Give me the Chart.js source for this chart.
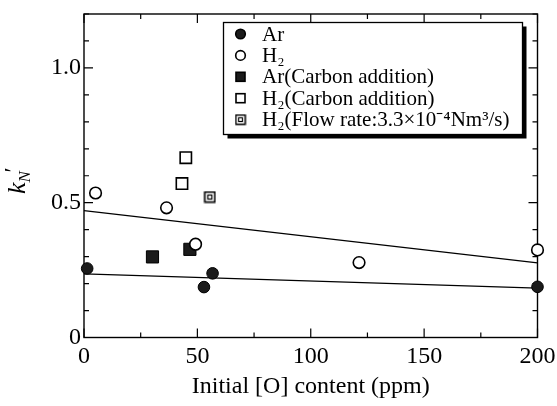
<!DOCTYPE html>
<html>
<head>
<meta charset="utf-8">
<script src="https://cdn.jsdelivr.net/npm/chart.js@4/dist/chart.umd.min.js"></script>
<style>
  body { margin: 0; background: #fff; }
  #wrap { width: 557px; height: 406px; }
</style>
</head>
<body>
<div id="wrap"><canvas id="kn-chart"></canvas></div>
<script>
// values
const seriesNames = [
    "Ar",
    "H\u2082",
    "Ar(Carbon addition)",
    "H\u2082(Carbon addition)",
    "H\u2082(Flow rate:3.3\u00d710\u207b\u2074Nm\u00b3/s)",
];
const arX = [1.4, 52.9, 56.7, 200];
const arY = [0.256, 0.187, 0.238, 0.188];
const h2X = [5.1, 36.4, 49.2, 121.3, 200];
const h2Y = [0.536, 0.481, 0.346, 0.278, 0.325];
const arCarbonX = [30.2, 46.7];
const arCarbonY = [0.299, 0.327];
const h2CarbonX = [44.9, 43.2];
const h2CarbonY = [0.667, 0.571];
const h2FlowX = [55.5];
const h2FlowY = [0.521];
const h2FitX = [0, 200];
const h2FitY = [0.471, 0.277];
const arFitX = [0, 200];
const arFitY = [0.236, 0.183];

const xTickValues = [0, 50, 100, 150, 200];
const yTickValues = [0, 0.5, 1.0];
const yTickLabels = ["0", "0.5", "1.0"];

const serif = "'Liberation Serif', 'Times New Roman', serif";

function pts(xs, ys) {
    return xs.map((x, i) => ({ x: x, y: ys[i] }));
}

// square with a small square inside, for the flow-rate series
const flowMarker = document.createElement("canvas");
flowMarker.width = 13;
flowMarker.height = 13;
const fm = flowMarker.getContext("2d");
fm.fillStyle = "#fff";
fm.fillRect(1, 1, 11, 11);
fm.strokeStyle = "#000";
fm.lineWidth = 1.6;
fm.strokeRect(1.5, 1.5, 10, 10);
fm.lineWidth = 1.2;
fm.strokeRect(4.5, 4.5, 4, 4);

const knDatasets = [
    {
        label: seriesNames[0], data: pts(arX, arY), marker: "dot",
        pointStyle: "circle", pointRadius: 5.8,
        backgroundColor: "#1b1b1b", borderColor: "#000", borderWidth: 1,
    },
    {
        label: seriesNames[1], data: pts(h2X, h2Y), marker: "ring",
        pointStyle: "circle", pointRadius: 5.8,
        backgroundColor: "#fff", borderColor: "#000", borderWidth: 1.6,
    },
    {
        label: seriesNames[2], data: pts(arCarbonX, arCarbonY), marker: "block",
        pointStyle: "rect", pointRadius: 8.6,
        backgroundColor: "#1b1b1b", borderColor: "#000", borderWidth: 1,
    },
    {
        label: seriesNames[3], data: pts(h2CarbonX, h2CarbonY), marker: "box",
        pointStyle: "rect", pointRadius: 8,
        backgroundColor: "#fff", borderColor: "#000", borderWidth: 1.6,
    },
    {
        label: seriesNames[4], data: pts(h2FlowX, h2FlowY), marker: "flow",
        pointStyle: flowMarker, pointRadius: 6,
        backgroundColor: "#fff", borderColor: "#000",
    },
    {
        label: "H2 fit", data: pts(h2FitX, h2FitY), showLine: true,
        pointRadius: 0, borderColor: "#000", borderWidth: 1.3,
    },
    {
        label: "Ar fit", data: pts(arFitX, arFitY), showLine: true,
        pointRadius: 0, borderColor: "#000", borderWidth: 1.3,
    },
];
knDatasets.forEach((d) => { d.clip = false; });

// frame with inward ticks on all four sides
const frameTicks = {
    id: "frameTicks",
    beforeDatasetsDraw(chart) {
        const { ctx, chartArea: a, scales } = chart;
        ctx.save();
        ctx.strokeStyle = "#000";
        ctx.lineWidth = 1.4;
        ctx.strokeRect(a.left, a.top, a.right - a.left, a.bottom - a.top);
        ctx.lineWidth = 1.2;
        ctx.beginPath();
        scales.x.ticks.forEach((t) => {
            const px = scales.x.getPixelForValue(t.value);
            const len = t.value % 50 === 0 ? 9 : 5;
            ctx.moveTo(px, a.bottom);
            ctx.lineTo(px, a.bottom - len);
            ctx.moveTo(px, a.top);
            ctx.lineTo(px, a.top + len);
        });
        scales.y.ticks.forEach((t) => {
            const py = scales.y.getPixelForValue(t.value);
            const len = Math.round(t.value * 10) % 5 === 0 ? 9 : 5;
            ctx.moveTo(a.left, py);
            ctx.lineTo(a.left + len, py);
            ctx.moveTo(a.right, py);
            ctx.lineTo(a.right - len, py);
        });
        ctx.stroke();
        ctx.restore();
    },
};

// y title  k_N'
const yTitle = {
    id: "yTitle",
    afterDraw(chart) {
        const ctx = chart.ctx;
        ctx.save();
        ctx.translate(25, 194);
        ctx.rotate(-Math.PI / 2);
        ctx.fillStyle = "#000";
        ctx.textBaseline = "alphabetic";
        ctx.font = "italic 26px " + serif;
        ctx.fillText("k", 0, 0);
        const kw = ctx.measureText("k").width;
        ctx.font = "italic 17px " + serif;
        ctx.fillText("N", kw, 5);
        ctx.font = "23px " + serif;
        ctx.fillText("\u2032", kw + 10, -5);
        ctx.restore();
    },
};

// boxed legend with a drop shadow
const boxLegend = {
    id: "boxLegend",
    afterDraw(chart) {
        const ctx = chart.ctx;
        const left = 223.5, top = 22.5, w = 299, h = 112;
        ctx.save();
        ctx.fillStyle = "#000";
        ctx.fillRect(left + 4, top + 4, w, h);
        ctx.fillStyle = "#fff";
        ctx.fillRect(left, top, w, h);
        ctx.strokeStyle = "#000";
        ctx.lineWidth = 1.3;
        ctx.strokeRect(left, top, w, h);
        ctx.font = "21px " + serif;
        ctx.textBaseline = "middle";
        const items = chart.data.datasets.filter((d) => d.marker);
        items.forEach((d, i) => {
            const cy = 34 + i * 21.4;
            const mx = 240.5;
            ctx.lineWidth = 1.6;
            ctx.strokeStyle = "#000";
            if (d.marker === "dot" || d.marker === "ring") {
                ctx.beginPath();
                ctx.arc(mx, cy, 4.8, 0, Math.PI * 2);
                ctx.fillStyle = d.marker === "dot" ? "#1b1b1b" : "#fff";
                ctx.fill();
                ctx.stroke();
            } else if (d.marker === "block" || d.marker === "box") {
                ctx.fillStyle = d.marker === "block" ? "#1b1b1b" : "#fff";
                ctx.fillRect(mx - 4.5, cy - 4.5, 9, 9);
                ctx.strokeRect(mx - 4.5, cy - 4.5, 9, 9);
            } else {
                ctx.drawImage(flowMarker, mx - 6, cy - 6, 12, 12);
            }
            ctx.fillStyle = "#000";
            ctx.fillText(d.label, 262, cy + 1);
        });
        ctx.restore();
    },
};

const knContext = document.getElementById("kn-chart");

const knConfig = {
    type: "scatter",
    data: { datasets: knDatasets },
    options: {
        responsive: true,
        maintainAspectRatio: false,
        animation: false,
        layout: { padding: { top: 14, right: 19.5, left: 0, bottom: 0 } },
        plugins: {
            legend: { display: false },
            tooltip: { enabled: false },
        },
        scales: {
            x: {
                type: "linear",
                min: 0,
                max: 200,
                grid: { display: false, drawTicks: false },
                border: { display: false },
                ticks: {
                    stepSize: 25,
                    autoSkip: false,
                    maxRotation: 0,
                    padding: 5,
                    color: "#000",
                    font: { family: serif, size: 24 },
                    callback: (v) => (xTickValues.includes(v) ? String(v) : ""),
                },
                title: {
                    display: true,
                    text: "Initial [O] content (ppm)",
                    color: "#000",
                    font: { family: serif, size: 24 },
                    padding: { top: 0, bottom: 5 },
                },
                afterFit: (scale) => {
                    scale.height = 68.5;
                    scale.paddingLeft = 0;
                    scale.paddingRight = 0;
                },
            },
            y: {
                type: "linear",
                min: 0,
                max: 1.2,
                grid: { display: false, drawTicks: false },
                border: { display: false },
                ticks: {
                    stepSize: 0.1,
                    autoSkip: false,
                    padding: 3,
                    color: "#000",
                    font: { family: serif, size: 24 },
                    callback: (v) => {
                        const i = yTickValues.findIndex((t) => Math.abs(t - v) < 1e-6);
                        return i >= 0 ? yTickLabels[i] : "";
                    },
                },
                afterFit: (scale) => {
                    scale.width = 84;
                    scale.paddingTop = 0;
                    scale.paddingBottom = 0;
                },
            },
        },
    },
    plugins: [frameTicks, yTitle, boxLegend],
};

const knChart = new Chart(knContext, knConfig);
</script>
</body>
</html>
